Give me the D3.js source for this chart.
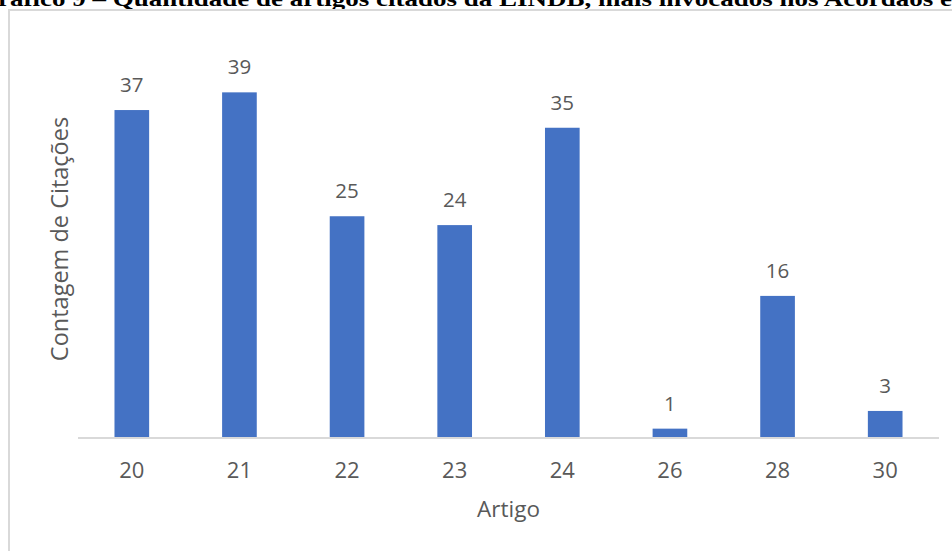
<!DOCTYPE html>
<html>
<head>
<meta charset="utf-8">
<script src="https://cdn.jsdelivr.net/npm/d3@7"></script>
<style>
  html, body { margin: 0; padding: 0; background: #fff; }
  svg { display: block; }
</style>
</head>
<body>
<svg id="chart" width="952" height="551"></svg>
<script>
// Citation counts per article of the LINDB
const artigos = ["20", "21", "22", "23", "24", "26", "28", "30"];
const contagens = [37, 39, 25, 24, 35, 1, 16, 3];
const tituloGrafico = "ráfico 9 – Quantidade de artigos citados da LINDB, mais invocados nos Acordãos e";

const svg = d3.select("#chart");
const W = 952, H = 551;
const textColor = "#595959";
const barColor = "#4472C4";
const lineColor = "#d9d9d9";
const font = "'Open Sans', 'Noto Sans', sans-serif";

// Caption line above the chart frame (runs past the top edge of the page)
svg.append("text")
  .attr("x", -2)
  .attr("y", 6)
  .attr("font-family", "'Liberation Serif', 'Times New Roman', serif")
  .attr("font-weight", "bold")
  .attr("font-size", 21)
  .attr("fill", "#000")
  .attr("textLength", 954)
  .attr("lengthAdjust", "spacingAndGlyphs")
  .text(tituloGrafico);

// Chart area frame
svg.append("rect")
  .attr("x", 9)
  .attr("y", 10)
  .attr("width", W + 20)
  .attr("height", H + 20)
  .attr("fill", "#fff")
  .attr("stroke", lineColor)
  .attr("stroke-width", 2);

const x = d3.scaleBand()
  .domain(artigos)
  .range([78, 939])
  .paddingInner(0.678)
  .paddingOuter(0.339);

const y = d3.scaleLinear()
  .domain([0, 45])
  .range([437.5, 39.25]);

const data = artigos.map((a, i) => ({ artigo: a, valor: contagens[i] }));

// Bars
svg.append("g").selectAll("rect")
  .data(data)
  .join("rect")
  .attr("x", d => x(d.artigo))
  .attr("y", d => y(d.valor))
  .attr("width", x.bandwidth())
  .attr("height", d => y(0) - y(d.valor))
  .attr("fill", barColor);

// Category axis
const xAxis = svg.append("g")
  .attr("transform", `translate(0,${y(0)})`)
  .call(d3.axisBottom(x).tickSize(0).tickPadding(0));
xAxis.select(".domain")
  .attr("stroke", lineColor)
  .attr("stroke-width", 2)
  .attr("d", `M78,0.5H939`);
xAxis.selectAll("text")
  .attr("font-family", font)
  .attr("font-size", 22)
  .attr("fill", textColor)
  .attr("dy", null)
  .attr("y", 40);

// Value labels above bars
svg.append("g").selectAll("text")
  .data(data)
  .join("text")
  .attr("x", d => x(d.artigo) + x.bandwidth() / 2)
  .attr("y", d => y(d.valor) - 18)
  .attr("text-anchor", "middle")
  .attr("font-family", font)
  .attr("font-size", 20.5)
  .attr("fill", textColor)
  .text(d => d.valor);

// Axis titles
svg.append("text")
  .attr("x", (78 + 939) / 2)
  .attr("y", 517)
  .attr("text-anchor", "middle")
  .attr("font-family", font)
  .attr("font-size", 22.5)
  .attr("fill", textColor)
  .text("Artigo");

svg.append("text")
  .attr("transform", "translate(68,239) rotate(-90)")
  .attr("text-anchor", "middle")
  .attr("font-family", font)
  .attr("font-size", 23.5)
  .attr("fill", textColor)
  .text("Contagem de Citações");
</script>
</body>
</html>
